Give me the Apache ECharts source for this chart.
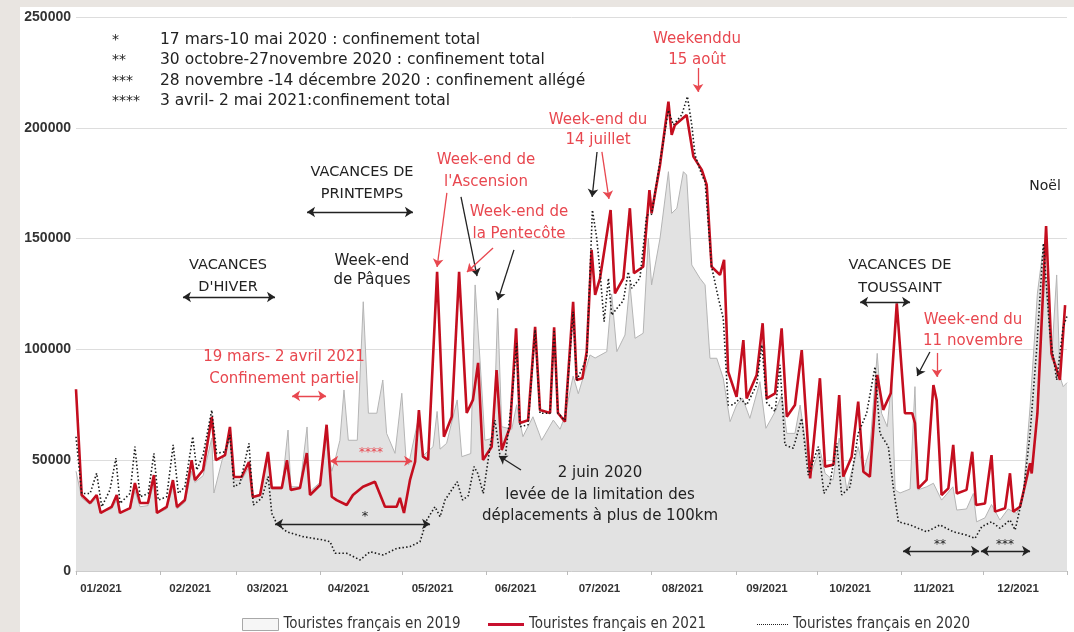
<!DOCTYPE html>
<html><head><meta charset="utf-8">
<script src="https://cdn.jsdelivr.net/npm/echarts@6/dist/echarts.min.js"></script>
<style>
html,body{margin:0;padding:0;background:#e9e5e1;}
#wrap{position:relative;width:1074px;height:632px;overflow:hidden;}
#panel{position:absolute;left:20px;top:7px;right:0;bottom:0;background:#fff;}
#chart{position:absolute;left:0;top:0;width:1074px;height:632px;}
</style></head><body>
<div id="wrap"><div id="panel"></div><div id="chart"></div></div>
<script>
// x = day of year (0 = 1 January), y = number of tourists
const monthLabels = ['01/2021','02/2021','03/2021','04/2021','05/2021','06/2021','07/2021','08/2021','09/2021','10/2021','11/2021','12/2021'];
const labelPos = [9.2, 42, 70.5, 100.4, 131.3, 161.9, 192.8, 223.4, 254.5, 285.1, 316, 347];
const monthStarts = [0,31,59,90,120,151,181,212,243,273,304,334,365];
const yTicks = [0, 50000, 100000, 150000, 200000, 250000];

const red2021 = [
[0,82000],[2.1,34300],[5.2,30700],[7.6,34300],[9.1,26200],[13.1,28900],[15,34300],[16.2,26200],[19.9,28400],[21.7,39700],
[23.6,30700],[26.5,30700],[28.7,43300],[29.8,26200],[33.4,28900],[35.7,41000],[37.2,28900],[40.1,32000],[42.6,50000],[43.8,41000],
[46.8,45600],[50,69500],[51.5,50000],[54.9,52300],[56.7,65000],[58.2,42400],[61,42400],[63.7,49200],[65.1,33400],[67.8,34300],
[70.7,53700],[72.1,37500],[75.8,37500],[77.7,50000],[79.1,36600],[82.5,37500],[85,53200],[86.2,34300],[89.9,38800],[92.3,66000],
[94.2,33500],[96,32000],[99.7,29800],[102,34300],[105.7,38000],[110.1,40300],[113.8,29000],[118.1,29000],[119.3,33000],[120.8,26200],
[123,41000],[124.9,49300],[126.3,72600],[127.8,51600],[129.7,50100],[133,135000],[135.5,60600],[138.4,69600],[141.1,135000],[143.9,71300],
[146.2,77200],[148.1,93900],[149.9,50100],[153.1,56100],[154.9,90700],[156.8,54600],[159.9,65100],[162.1,109500],[163.5,66800],[166.5,68000],
[169.1,110200],[170.9,72600],[174.6,71300],[176.1,110000],[177.5,71300],[180.1,67400],[183.1,121500],[184.4,86200],[186.5,87000],[188.1,99000],
[189.9,144900],[191.2,124600],[193,132100],[196.9,162900],[198.5,125300],[201.6,132100],[204,163700],[205.5,134400],[208.9,137300],[211.2,171900],
[212,161400],[215.1,183200],[218.2,211800],[219.4,196800],[220.6,201300],[224.9,205800],[227.4,187000],[230.5,181000],[232.3,174200],[234.1,137300],
[237.2,133600],[238.7,140400],[240.2,89900],[243.3,78600],[245.8,104200],[247,77900],[250.7,88400],[252.9,111800],[254.4,77900],[257.5,80200],
[259.9,109500],[261.8,69600],[264.8,74900],[267.3,99700],[270.4,41800],[274,87000],[275.9,47100],[279,48000],[281.1,79400],[282.6,42600],
[285.7,51600],[288.1,76400],[290,44800],[292.4,42600],[295.1,88500],[297.3,72700],[300.1,80200],[302.3,120800],[305.3,71200],[308,71200],
[309,66700],[310.2,37300],[313.3,41100],[315.8,83900],[317,77000],[318.8,34300],[321.3,37300],[323.1,56900],[324.4,35000],[328,36600],
[330.1,53800],[331.5,29800],[334.8,30500],[337.2,52300],[338.5,26800],[342.2,28300],[344,44100],[345.2,26800],[347.7,29000],[351.4,48600],
[352,44000],[354.1,71200],[357.3,155700],[359.3,98200],[362.4,86200],[364.3,120000]
];

const grey2019 = [
[0,45000],[2.1,33000],[5.2,30000],[7.6,33000],[9.1,26500],[13.1,28000],[15,32000],[16.2,26500],[19.9,28000],[21.7,36000],
[23.6,29000],[26.5,29500],[28.7,40000],[29.8,26000],[33.4,28000],[35.7,38000],[37.2,28000],[40.1,31000],[42.6,45000],[43.8,40000],
[46.8,43000],[50,60000],[50.8,35200],[53.8,50000],[56.7,60000],[58.2,41000],[61,41000],[63.7,47000],[65.1,33000],[67.8,34000],
[70.7,52000],[72.1,37000],[75.8,37000],[78.1,63600],[79.1,38000],[82.5,38000],[85.1,65000],[86.2,36000],[89.9,40000],[92.3,60000],
[94.2,45000],[95.4,50000],[97.2,59000],[98.7,81700],[100.3,59000],[103.6,59000],[105.8,121500],[107.7,71200],[110.8,71200],[113,86200],
[114.4,62100],[117.5,53100],[120,80200],[121.5,51600],[122.5,48000],[126.3,70000],[127.8,52000],[131.5,56100],[133,72000],[134.1,55000],
[136.5,57600],[140.4,77200],[142.1,51600],[145.4,53000],[147,129100],[148.8,95200],[150.6,59000],[153.8,60000],[155.3,118500],[156.8,65100],
[160.5,64000],[162.3,75000],[164.6,60600],[168.3,69600],[171.5,59000],[175.8,68100],[178.3,64000],[180.1,70000],[183.1,88000],[185,80000],
[189.3,97500],[191.2,96100],[195.5,99000],[197.3,125000],[199.2,99000],[202.2,106500],[204,129800],[205.9,105000],[208.9,107300],[210.8,150100],
[212,129100],[215.1,150100],[218.2,180200],[219.4,161400],[221.3,163700],[223.7,180200],[224.9,178700],[226.8,138100],[229.8,132100],[231.7,129100],
[233.5,96000],[236,96000],[238.4,87000],[240.9,67400],[243.3,74900],[245.5,78000],[248.2,68900],[251.9,85400],[254.1,64400],[257.5,71900],
[259.9,79400],[261.8,62100],[264.8,62100],[266.7,74900],[270.4,43300],[274,55000],[275.9,44100],[278.8,41000],[281.1,60000],[283.9,36600],
[288.1,56100],[290,45000],[292.4,55000],[295.1,98200],[296.7,71200],[298.8,65100],[300.4,86200],[301.7,36600],[303.5,35200],[307.2,37000],
[309,83200],[310.1,36600],[313.3,38000],[315.8,39600],[318.8,32000],[323,38000],[324.4,27500],[328,28000],[330.5,35000],[331.7,22200],
[334.8,24000],[337.2,30000],[340.3,23000],[343.3,28000],[346.5,26000],[348.9,35000],[351.4,74100],[354.1,125300],[356.3,146300],[359.3,95200],
[361.2,133600],[362.4,87700],[363.6,83200],[365,85000]
];

const dot2020 = [
[0,60600],[2.1,35000],[5.2,35000],[7.6,44100],[9.5,29000],[12.5,36600],[14.7,50900],[16.2,30500],[19.9,35000],[21.7,56100],
[23.6,33500],[26.6,35000],[28.7,53100],[30.3,32000],[33.4,33500],[35.8,56900],[37.7,35000],[40.1,38000],[43,60600],[44.5,45600],
[46.8,52300],[50,72600],[51.8,53100],[54.9,53800],[56.7,61400],[58.2,38000],[60.4,39600],[63.7,57600],[65.3,29800],[68.4,32800],
[70.8,42600],[72.1,26000],[73.9,21500],[77.6,17700],[83.6,15500],[91,14000],[93.6,13200],[95.4,8000],[99.7,8000],[104.6,5000],
[108.3,8700],[113.2,7200],[118.1,10200],[123,11000],[126.7,13200],[129.2,23000],[132.2,29000],[134.1,24500],[135.9,32000],[140.4,40300],
[142.4,32000],[144.5,34000],[146.6,47100],[148,44000],[150,35000],[152.5,56100],[154.3,68100],[156.2,51600],[158,50100],[160.5,77200],
[162.3,102800],[163.5,65100],[166.5,66000],[169.1,108800],[170.9,71200],[174.6,71200],[176.1,108800],[177.5,71200],[180.1,68000],[183.1,117000],
[184.4,86000],[188.1,96000],[190.2,162900],[191.8,150100],[193,135000],[194.5,112500],[196.1,132100],[197.3,115500],[199.2,118500],[201.6,122000],
[203.4,135000],[204.7,127600],[207.7,132100],[210.2,160600],[212,161000],[215.1,184700],[218.2,208000],[220,201300],[223.1,205800],[225.2,214100],
[226.8,201300],[228,187700],[230.5,178700],[231.7,175700],[234.1,137300],[236.6,123100],[238.4,114000],[240.2,74900],[242,75000],[244.6,77900],
[247,74900],[250.7,83900],[252.6,102000],[254.4,76000],[257.5,71900],[259.3,93000],[261.1,56900],[264.2,55400],[267.3,68900],[269.7,43300],
[273.4,56100],[275.5,35000],[277.7,39600],[280.2,57600],[282,34300],[285.1,38000],[288.1,62100],[291.2,71200],[294.3,92200],[296.1,62100],
[299.2,56100],[301,38000],[302.9,22200],[307.2,20800],[313.3,17700],[318.2,20800],[323.1,17700],[328,16200],[331.1,14700],[333.6,20000],
[337.2,22200],[340.3,19300],[344,23000],[345.9,18500],[348.9,35000],[351.4,62100],[353.8,99700],[356.3,147900],[358.7,107300],[361.2,86200],
[363.6,110200],[365,115000]
];

const NAME19 = 'Touristes français en 2019';
const NAME21 = 'Touristes français en 2021';
const NAME20 = 'Touristes français en 2020';

const FONT = "'DejaVu Sans', sans-serif";
const RED_T = '#e8474f';
const BLK = '#222';

function txt(x, y, text, color, size, align, lh) {
  return {type:'text', x:x, y:y, silent:true, z:100,
    style:{text:text, fill:color||BLK, fontFamily:FONT, fontSize:size||14,
      align:align||'center', textAlign:align||'center', verticalAlign:'middle', textVerticalAlign:'middle', lineHeight:lh||22}};
}
// annotation arrows in data coordinates (day, value)
function arrow(x1,y1,x2,y2,color,both){
  const ls = {color:color, width:1.3, type:'solid'};
  return [{coord:[x1,y1], symbol: both?'arrow':'none', lineStyle:ls},
          {coord:[x2,y2], symbol:'arrow', lineStyle:ls}];
}
const arrows = [
  arrow(39.4,123660,73.3,123660,BLK,true),
  arrow(85.1,162000,124.1,162000,BLK,true),
  arrow(79.6,79000,92.1,79000,RED_T,true),
  arrow(93.6,49640,123.8,49640,RED_T,true),
  arrow(73.3,21210,130.4,21210,BLK,true),
  arrow(136.6,170600,133,137200,RED_T,false),
  arrow(141.8,168800,147.7,133100,BLK,false),
  arrow(153.6,145800,144,134900,RED_T,false),
  arrow(161.3,144900,155.4,122300,BLK,false),
  arrow(163.9,45600,155.8,51900,BLK,false),
  arrow(191.9,189100,190.1,168800,BLK,false),
  arrow(193.7,189100,196.3,167900,RED_T,false),
  arrow(229.1,227000,229.1,216200,RED_T,false),
  arrow(288.8,121400,307.2,121400,BLK,true),
  arrow(314.5,98800,309.8,88000,BLK,false),
  arrow(317.1,98400,317.1,87600,RED_T,false),
  arrow(304.6,9030,332.6,9030,BLK,true),
  arrow(333.3,9030,351.4,9030,BLK,true)
];

const graphics = [
  txt(112,40,'*',BLK,14,'left'), txt(112,60,'**',BLK,14,'left'), txt(112,81,'***',BLK,14,'left'), txt(112,101,'****',BLK,14,'left'),
  txt(160,40,'17 mars-10 mai 2020 : confinement total',BLK,15.5,'left'),
  txt(160,60,'30 octobre-27novembre 2020 : confinement total',BLK,15.5,'left'),
  txt(160,81,'28 novembre -14 décembre 2020 : confinement allégé',BLK,15.5,'left'),
  txt(160,101,'3 avril- 2 mai 2021:confinement total',BLK,15.5,'left'),
  txt(228,276,'VACANCES\nD\'HIVER',BLK,14.5),
  txt(362,183,'VACANCES DE\nPRINTEMPS',BLK,14.5),
  txt(372,271,'Week-end\nde Pâques',BLK,15, null, 19),
  txt(284,368,'19 mars- 2 avril 2021\nConfinement partiel',RED_T,15),
  txt(371,453,'****',RED_T,12),
  txt(365,517,'*',BLK,13),
  txt(486,171,'Week-end de\nl\'Ascension',RED_T,15),
  txt(519,223,'Week-end de\nla Pentecôte',RED_T,15),
  txt(600,495,'2 juin 2020\nlevée de la limitation des\ndéplacements à plus de 100km',BLK,15, null, 21.5),
  txt(598,130,'Week-end du\n14 juillet',RED_T,15, null, 20),
  txt(697,50,'Weekenddu\n15 août',RED_T,15, null, 21),
  txt(900,277,'VACANCES DE\nTOUSSAINT',BLK,14.5, null, 23),
  txt(973,331,'Week-end du\n11 novembre',RED_T,15, null, 21),
  txt(1045,186,'Noël',BLK,14),
  txt(940,545,'**',BLK,12),
  txt(1005,545,'***',BLK,12)
];

// legend icons (line samples)
const solidIcon = 'path://M0,0 L36,0 L36,3 L0,3 Z';
let dotPath = 'path://';
for (let i = 0; i < 16; i++) { dotPath += 'M' + (i*2) + ',0 h1 v1 h-1 Z '; }

const LFONT = "'Liberation Sans Narrow','DejaVu Sans Condensed',sans-serif";
const chart = echarts.init(document.getElementById('chart'));
chart.setOption({
  backgroundColor:'transparent',
  animation:false,
  grid:{left:76, right:7, top:17, bottom:61, containLabel:false},
  xAxis:{type:'value', min:0, max:365,
    axisLine:{show:true, lineStyle:{color:'#cccccc', width:1}},
    axisTick:{show:true, customValues:monthStarts, length:4, lineStyle:{color:'#bbbbbb'}},
    axisLabel:{customValues:labelPos, margin:12, color:'#333', fontWeight:'bold', fontSize:11.5,
      fontFamily:"'Liberation Sans', Arial, sans-serif",
      formatter:function(v){ let b=0; for(let i=1;i<labelPos.length;i++){ if(Math.abs(labelPos[i]-v)<Math.abs(labelPos[b]-v)) b=i; } return monthLabels[b]; }},
    splitLine:{show:false}},
  yAxis:{type:'value', min:0, max:250000, interval:50000,
    axisLine:{show:false}, axisTick:{show:false},
    axisLabel:{margin:5, color:'#333', fontWeight:'bold', fontSize:14, fontFamily:"'Liberation Sans', Arial, sans-serif",
      formatter:function(v){ return yTicks.indexOf(v)>=0 ? String(v) : ''; }},
    splitLine:{show:true, lineStyle:{color:'#dddddd', width:1}}},
  legend:[
    {left:237, top:612, itemWidth:36, itemHeight:12, selectedMode:false,
     textStyle:{color:'#333', fontSize:15, fontFamily:LFONT},
     data:[{name:NAME19, icon:'rect', itemStyle:{color:'#f6f6f6', borderColor:'#a8a8a8', borderWidth:1}}]},
    {left:483, top:612, itemWidth:36, itemHeight:3, selectedMode:false,
     textStyle:{color:'#333', fontSize:15, fontFamily:LFONT},
     data:[{name:NAME21, icon:solidIcon, itemStyle:{color:'#c8102e'}}]},
    {left:752, top:612, itemWidth:31, itemHeight:2, selectedMode:false,
     textStyle:{color:'#333', fontSize:15, fontFamily:LFONT},
     data:[{name:NAME20, icon:dotPath, itemStyle:{color:'#222'}}]}
  ],
  graphic:graphics,
  series:[
    {name:NAME19, type:'line', data:grey2019, symbol:'none', z:1,
     lineStyle:{color:'#b4b4b4', width:1}, itemStyle:{color:'#b4b4b4'},
     areaStyle:{color:'#e2e2e2', opacity:1}},
    {name:NAME21, type:'line', data:red2021, symbol:'none', z:3,
     lineStyle:{color:'#c40e1f', width:2.6}, itemStyle:{color:'#c40e1f'},
     markLine:{silent:true, symbol:['none','arrow'], symbolSize:8, label:{show:false}, z:10,
       lineStyle:{width:1.3, type:'solid'}, emphasis:{disabled:true}, data:arrows}},
    {name:NAME20, type:'line', data:dot2020, symbol:'none', z:4,
     lineStyle:{color:'#1a1a1a', width:1.6, type:[1.5,2.2]}, itemStyle:{color:'#1a1a1a'}}
  ]
});
</script></body></html>
